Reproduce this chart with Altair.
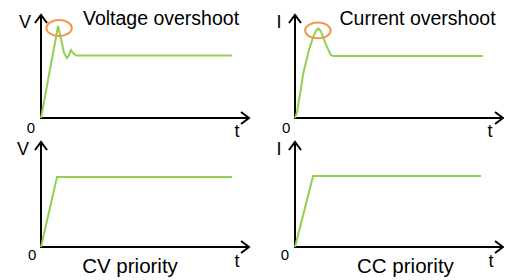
import altair as alt
import pandas as pd

# ---------------- data (axis units: both axes run 0..10) ----------------
titles = ["Voltage overshoot", "Current overshoot", "CV priority", "CC priority"]
ylabels = ["V", "I", "V", "I"]
xlabel = "t"
origin_label = "0"

v_over_t = [0, 0.82, 1.11, 1.25, 1.35, 1.44, 1.54, 1.68, 9.18]
v_over_v = [0, 8.93, 6.31, 5.83, 6.12, 6.60, 6.31, 6.07, 6.07]

i_over_t = [0, 0.10, 0.19, 0.29, 0.38, 0.53, 0.67, 0.86, 1.00, 1.12, 1.24, 1.48, 1.72, 1.82, 9.04]
i_over_v = [0, 0.58, 1.75, 2.91, 4.17, 5.44, 6.60, 7.77, 8.45, 8.69, 8.45, 7.18, 6.12, 6.02, 6.02]

cv_t = [0, 0.77, 9.18]
cv_v = [0, 6.67, 6.67]

cc_t = [0, 0.87, 8.94]
cc_v = [0, 6.76, 6.76]

# overshoot markers (centre, axis units)
marker_t = [0.87, 1.10]
marker_v = [8.74, 8.50]

curves = [(v_over_t, v_over_v), (i_over_t, i_over_v), (cv_t, cv_v), (cc_t, cc_v)]

# ---------------- layout (pixels inside each panel) ----------------
# W, H, origin x, origin y, x-axis tip x, y-axis tip y
geom = [
    (244, 132, 33, 110, 241, 7),
    (252, 132, 43, 110, 251, 7),
    (244, 140, 33, 107, 241, 2),
    (252, 140, 43, 107, 251, 2),
]
# label placement in axis units: (ylabel), (0), (t), (title)
label_pos = [
    [(-0.77, 9.27), (-0.48, -0.97), (9.42, -1.36), (5.77, 9.03)],
    [(-0.77, 9.27), (-0.43, -0.97), (9.38, -1.36), (5.89, 9.03)],
    [(-0.87, 9.24), (-0.43, -0.76), (9.42, -1.43), (4.28, -2.48)],
    [(-0.77, 9.24), (-0.48, -0.76), (9.42, -1.43), (5.31, -2.48)],
]
title_size = [19.5, 19.5, 20.5, 20.5]

GREEN = "#92D050"
ORANGE = "#F79646"
FONT = "Liberation Sans"

ELLIPSE = ("M-1,0C-1,-0.342,-0.552,-0.62,0,-0.62C0.552,-0.62,1,-0.342,1,0"
           "C1,0.342,0.552,0.62,0,0.62C-0.552,0.62,-1,0.342,-1,0Z")
ARROW_RIGHT = "M-1.33,-1L0,0L-1.33,1"
ARROW_UP = "M-1,1.33L0,0L1,1.33"


def panel(i):
    W, H, ox, oy, xt, yt = geom[i]
    sx = (xt - ox) / 10.0
    sy = (oy - yt) / 10.0
    xdom = [-ox / sx, (W - ox) / sx]
    ydom = [-(H - oy) / sy, oy / sy]
    X = alt.X("t:Q", scale=alt.Scale(domain=xdom, nice=False, zero=False), axis=None)
    Y = alt.Y("v:Q", scale=alt.Scale(domain=ydom, nice=False, zero=False), axis=None)

    axes_df = pd.DataFrame({"t": [0, 0, 10], "v": [10, 0, 0], "o": [0, 1, 2]})
    axes = alt.Chart(axes_df).mark_line(color="black", strokeWidth=2, clip=True).encode(
        x=X, y=Y, order=alt.Order("o:Q"))
    arr_r = alt.Chart(pd.DataFrame({"t": [10], "v": [0]})).mark_point(
        shape=ARROW_RIGHT, size=144, filled=False, stroke="black", strokeWidth=2,
        opacity=1, clip=True).encode(x=X, y=Y)
    arr_u = alt.Chart(pd.DataFrame({"t": [0], "v": [10]})).mark_point(
        shape=ARROW_UP, size=144, filled=False, stroke="black", strokeWidth=2,
        opacity=1, clip=True).encode(x=X, y=Y)

    ct, cv = curves[i]
    cdf = pd.DataFrame({"t": ct, "v": cv, "o": list(range(len(ct)))})
    curve = alt.Chart(cdf).mark_line(color=GREEN, strokeWidth=2, clip=True).encode(
        x=X, y=Y, order=alt.Order("o:Q"))

    lp = label_pos[i]
    ldf = pd.DataFrame({
        "txt": [ylabels[i], origin_label, xlabel],
        "t": [lp[0][0], lp[1][0], lp[2][0]],
        "v": [lp[0][1], lp[1][1], lp[2][1]],
        "fs": [18, 15, 18],
    })
    labels = alt.Chart(ldf).mark_text(font=FONT, color="black", align="center",
                                      baseline="middle", clip=True).encode(
        x=X, y=Y, text="txt:N", size=alt.Size("fs:Q", scale=None))
    tdf = pd.DataFrame({"txt": [titles[i]], "t": [lp[3][0]], "v": [lp[3][1]]})
    title = alt.Chart(tdf).mark_text(font=FONT, color="black", align="center",
                                     baseline="alphabetic", fontSize=title_size[i],
                                     clip=True).encode(x=X, y=Y, text="txt:N")

    layers = [axes, arr_r, arr_u, curve, labels, title]
    if i < len(marker_t):
        mdf = pd.DataFrame({"t": [marker_t[i]], "v": [marker_v[i]]})
        marker = alt.Chart(mdf).mark_point(shape=ELLIPSE, size=650, filled=False,
                                           stroke=ORANGE, strokeWidth=2, opacity=1,
                                           clip=True).encode(x=X, y=Y)
        layers.append(marker)
    return alt.layer(*layers).properties(width=W, height=H)


row1 = alt.hconcat(panel(0), panel(1), spacing=0)
row2 = alt.hconcat(panel(2), panel(3), spacing=0)
chart = alt.vconcat(row1, row2, spacing=0).properties(padding=0).configure_view(
    strokeWidth=0).configure_concat(spacing=0)

chart.save("out.html", embed_options={"renderer": "svg", "actions": False})
